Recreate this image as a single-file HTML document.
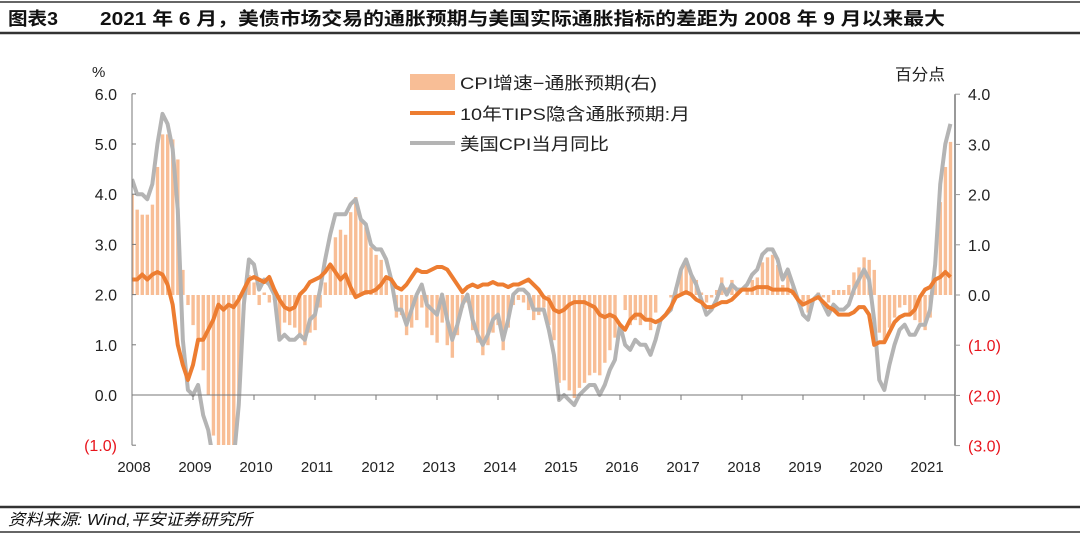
<!DOCTYPE html>
<html><head><meta charset="utf-8"><style>
html,body{margin:0;padding:0;background:#fff;width:1080px;height:537px;overflow:hidden;font-family:"Liberation Sans","Noto Sans CJK SC",sans-serif;}
svg text{font-family:"Liberation Sans","Noto Sans CJK SC",sans-serif;}
</style></head><body>
<svg id="chart" width="1080" height="537" viewBox="0 0 1080 537" xmlns="http://www.w3.org/2000/svg">
<line x1="0" y1="2" x2="1080" y2="2" stroke="#333" stroke-width="1.5"/>
<text x="8" y="25" font-size="18" font-weight="bold" fill="#111" textLength="50" lengthAdjust="spacingAndGlyphs">图表3</text>
<text x="100" y="25" font-size="18" font-weight="bold" fill="#111" textLength="845" lengthAdjust="spacingAndGlyphs">2021 年 6 月，美债市场交易的通胀预期与美国实际通胀指标的差距为 2008 年 9 月以来最大</text>
<line x1="0" y1="33" x2="1080" y2="33" stroke="#333" stroke-width="2.5"/>
<text x="92" y="77" font-size="15" fill="#222">%</text>
<text x="895" y="80" font-size="16" fill="#222" textLength="50" lengthAdjust="spacingAndGlyphs">百分点</text>
<g id="legend">
<rect x="410" y="74" width="45" height="16" fill="#f8be96"/>
<text x="460" y="89" font-size="17" fill="#222" textLength="197" lengthAdjust="spacingAndGlyphs">CPI增速−通胀预期(右)</text>
<line x1="410" y1="113" x2="455" y2="113" stroke="#ed7d31" stroke-width="4"/>
<text x="460" y="120" font-size="17" fill="#222" textLength="230" lengthAdjust="spacingAndGlyphs">10年TIPS隐含通胀预期:月</text>
<line x1="410" y1="143" x2="455" y2="143" stroke="#b4b4b4" stroke-width="4"/>
<text x="460" y="150" font-size="17" fill="#222" textLength="149" lengthAdjust="spacingAndGlyphs">美国CPI当月同比</text>
</g>
<defs><clipPath id="plotclip"><rect x="132" y="60" width="823" height="385"/></clipPath></defs>
<g id="bars" clip-path="url(#plotclip)"></g>
<g id="lines" clip-path="url(#plotclip)"></g>
<g id="axes"></g>
<line x1="0" y1="507" x2="1080" y2="507" stroke="#333" stroke-width="2.5"/>
<text x="8" y="525" font-size="16" font-style="italic" fill="#111" textLength="244" lengthAdjust="spacingAndGlyphs">资料来源: Wind,平安证券研究所</text>
<line x1="0" y1="532" x2="1080" y2="532" stroke="#333" stroke-width="1.5"/>
</svg>
<script>
const years = ["2008","2009","2010","2011","2012","2013","2014","2015","2016","2017","2018","2019","2020","2021"];
const leftTicks = [6,5,4,3,2,1,0,-1];
const rightTicks = [4,3,2,1,0,-1,-2,-3];
const cpi = [4.3,4.0,4.0,3.9,4.2,5.0,5.6,5.4,4.9,3.7,1.1,0.1,
0.0,0.2,-0.4,-0.7,-1.3,-1.4,-2.1,-1.5,-1.3,-0.2,1.8,2.7,
2.6,2.1,2.3,2.2,2.0,1.1,1.2,1.1,1.1,1.2,1.1,1.5,
1.6,2.1,2.7,3.2,3.6,3.6,3.6,3.8,3.9,3.5,3.4,3.0,
2.9,2.9,2.7,2.3,1.7,1.7,1.4,1.7,2.0,2.2,1.8,1.7,
1.6,2.0,1.5,1.1,1.4,1.8,2.0,1.5,1.2,1.0,1.2,1.5,
1.6,1.1,1.5,2.0,2.1,2.1,2.0,1.7,1.7,1.7,1.3,0.8,
-0.1,0.0,-0.1,-0.2,0.0,0.1,0.2,0.2,0.0,0.2,0.5,0.7,
1.4,1.0,0.9,1.1,1.0,1.0,0.8,1.1,1.5,1.6,1.7,2.1,
2.5,2.7,2.4,2.2,1.9,1.6,1.7,1.9,2.2,2.0,2.2,2.1,
2.1,2.2,2.4,2.5,2.8,2.9,2.9,2.7,2.3,2.5,2.2,1.9,
1.6,1.5,1.9,2.0,1.8,1.6,1.8,1.7,1.7,1.8,2.1,2.3,
2.5,2.3,1.5,0.3,0.1,0.6,1.0,1.3,1.4,1.2,1.2,1.4,
1.4,1.7,2.6,4.2,5.0,5.4];
const tips = [2.3,2.3,2.4,2.3,2.4,2.45,2.4,2.2,1.8,1.0,0.6,0.3,
0.6,1.1,1.1,1.3,1.5,1.8,1.7,1.8,1.75,1.9,2.1,2.3,
2.35,2.3,2.25,2.35,2.1,1.9,1.75,1.7,1.75,2.0,2.1,2.25,
2.3,2.35,2.45,2.6,2.45,2.3,2.4,2.15,1.95,2.0,2.05,2.05,
2.1,2.2,2.35,2.3,2.15,2.1,2.2,2.35,2.5,2.45,2.45,2.5,
2.55,2.55,2.5,2.35,2.2,2.05,2.15,2.2,2.15,2.2,2.2,2.25,
2.2,2.2,2.15,2.2,2.2,2.25,2.3,2.2,2.1,1.95,1.9,1.7,
1.65,1.7,1.8,1.85,1.85,1.85,1.8,1.75,1.6,1.55,1.6,1.55,
1.4,1.3,1.5,1.6,1.6,1.5,1.5,1.45,1.5,1.6,1.75,1.95,
2.0,2.05,2.0,1.9,1.85,1.75,1.75,1.8,1.85,1.85,1.9,2.0,
2.1,2.1,2.1,2.15,2.15,2.15,2.1,2.1,2.1,2.1,2.05,1.9,
1.8,1.85,1.9,1.95,1.85,1.75,1.7,1.6,1.6,1.6,1.65,1.75,
1.75,1.6,1.0,1.05,1.05,1.25,1.45,1.55,1.6,1.6,1.7,1.95,
2.1,2.15,2.3,2.35,2.45,2.35];
const spread = [2.0,1.7,1.6,1.6,1.8,2.55,3.2,3.2,3.1,2.7,0.5,-0.2,
-0.6,-0.9,-1.5,-2.0,-2.8,-3.2,-3.8,-3.3,-3.05,-2.1,-0.3,0.4,
0.25,-0.2,0.05,-0.15,-0.1,-0.8,-0.55,-0.6,-0.65,-0.8,-1.0,-0.75,
-0.7,-0.25,0.25,0.6,1.15,1.3,1.2,1.65,1.95,1.5,1.35,0.95,
0.8,0.7,0.35,0.0,-0.45,-0.4,-0.8,-0.65,-0.5,-0.25,-0.65,-0.8,
-0.95,-0.55,-1.0,-1.25,-0.8,-0.25,-0.15,-0.7,-0.95,-1.2,-1.0,-0.75,
-0.6,-1.1,-0.65,-0.2,-0.1,-0.15,-0.3,-0.5,-0.4,-0.25,-0.6,-0.9,
-1.75,-1.7,-1.9,-2.05,-1.85,-1.75,-1.6,-1.55,-1.6,-1.35,-1.1,-0.85,
0.0,-0.3,-0.6,-0.5,-0.6,-0.5,-0.7,-0.35,0.0,0.0,-0.05,0.15,
0.5,0.65,0.4,0.3,0.05,-0.15,-0.05,0.1,0.35,0.15,0.3,0.1,
0.0,0.1,0.3,0.35,0.65,0.75,0.8,0.6,0.2,0.4,0.15,0.0,
-0.2,-0.35,0.0,0.05,-0.05,-0.15,0.1,0.1,0.1,0.2,0.45,0.55,
0.75,0.7,0.5,-0.75,-0.95,-0.65,-0.45,-0.25,-0.2,-0.4,-0.5,-0.55,
-0.7,-0.45,0.3,1.85,2.55,3.05];

const NS='http://www.w3.org/2000/svg';
const X0=132, MONTHPX=61/12;
function xScale(m){return X0+m*MONTHPX;}
function yLeft(v){return 395-v*50.2;}
function yRight(v){return 295-v*50.2;}
function mk(tag,attrs,parent){const e=document.createElementNS(NS,tag);for(const k in attrs)e.setAttribute(k,attrs[k]);parent.appendChild(e);return e;}

const gb=document.getElementById('bars');
spread.forEach((v,i)=>{
  const y0=yRight(0), y1=yRight(v);
  const r=mk('rect',{x:xScale(i)-1.6,y:Math.min(y0,y1),width:3.4,height:Math.abs(y1-y0),fill:'#f8be96'},gb);
  
  
});
const gl=document.getElementById('lines');
const pc=mk('polyline',{points:cpi.map((v,i)=>xScale(i)+','+yLeft(v)).join(' '),fill:'none',stroke:'#b4b4b4','stroke-width':4,'stroke-linejoin':'round'},gl);


const pt=mk('polyline',{points:tips.map((v,i)=>xScale(i)+','+yLeft(v)).join(' '),fill:'none',stroke:'#ed7d31','stroke-width':4,'stroke-linejoin':'round'},gl);



const ga=document.getElementById('axes');
const la=mk('line',{x1:X0,y1:yLeft(6),x2:X0,y2:yLeft(-1),stroke:'#777','stroke-width':1},ga);


const ra=mk('line',{x1:955,y1:yRight(4),x2:955,y2:yRight(-3),stroke:'#999','stroke-width':2},ga);


const xa=mk('line',{x1:X0,y1:yLeft(0),x2:955,y2:yLeft(0),stroke:'#777','stroke-width':1},ga);


leftTicks.forEach(v=>{
  mk('line',{x1:X0,y1:yLeft(v),x2:X0+4,y2:yLeft(v),stroke:'#777'},ga);
  const t=mk('text',{x:117,y:yLeft(v)+6,'text-anchor':'end','font-size':16,fill:v<0?'#e8141c':'#222'},ga);
  t.textContent=v<0?'('+Math.abs(v).toFixed(1)+')':v.toFixed(1);
  
  
});
rightTicks.forEach(v=>{
  mk('line',{x1:955,y1:yRight(v),x2:960,y2:yRight(v),stroke:'#999'},ga);
  const t=mk('text',{x:968,y:yRight(v)+6,'font-size':16,fill:v<0?'#e8141c':'#222'},ga);
  t.textContent=v<0?'('+Math.abs(v).toFixed(1)+')':v.toFixed(1);
  
  
});
years.forEach((y,i)=>{
  const x=xScale(i*12);
  if(i>0) mk('line',{x1:x,y1:yLeft(0),x2:x,y2:yLeft(0)+5,stroke:'#777'},ga);
  const t=mk('text',{x:x+2,y:472,'text-anchor':'middle','font-size':15,fill:'#222'},ga);
  t.textContent=y;
  
  
});
</script>
</body></html>
